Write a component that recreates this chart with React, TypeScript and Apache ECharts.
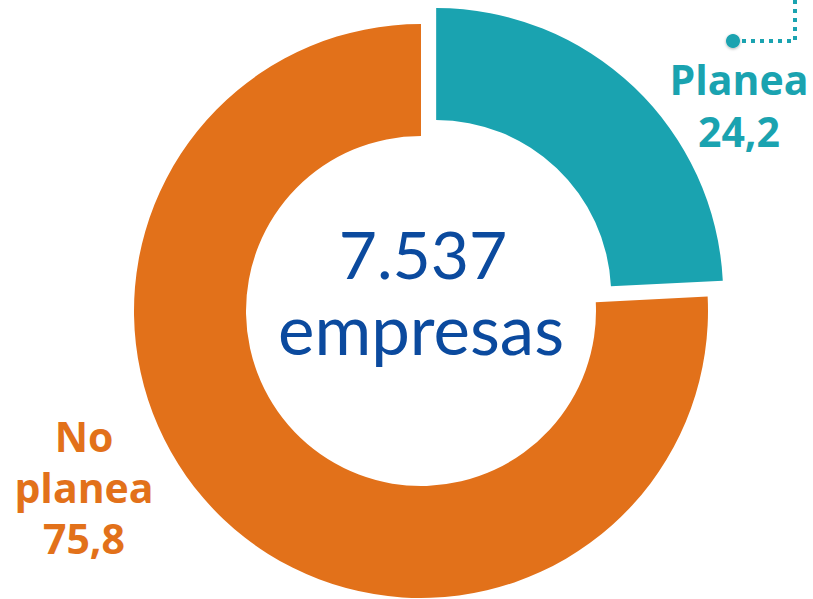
import React, { useEffect, useRef } from "react";
import * as echarts from "echarts";

const categories = ["Planea", "No planea"];
const values = [24.2, 75.8];
const colors = ["#1AA3B0", "#E2711A"];
const totalLabel = "7.537";
const totalUnit = "empresas";

const fmt = (v: number) => v.toFixed(1).replace(".", ",");

export default function App() {
  const ref = useRef<HTMLDivElement>(null);
  useEffect(() => {
    if (!ref.current) return;
    const chart = echarts.init(ref.current, null, { renderer: "svg" });
    const font = "'Open Sans', Lato, sans-serif";
    const centerFont = "Lato, 'Open Sans', sans-serif";
    chart.setOption({
      animation: false,
      backgroundColor: "#ffffff",
      series: [
        {
          type: "pie",
          center: [421, 311],
          radius: [175, 287],
          startAngle: 90,
          clockwise: true,
          selectedMode: "single",
          selectedOffset: 22,
          label: { show: false },
          labelLine: { show: false },
          emphasis: { disabled: true },
          data: categories.map((c, i) => ({
            name: c,
            value: values[i],
            selected: i === 0,
            itemStyle: { color: colors[i] },
          })),
        },
      ],
      graphic: [
        {
          type: "text",
          x: 423,
          y: 253,
          style: {
            text: totalLabel,
            fill: "#0B4A9E",
            font: `400 66px ${centerFont}`,
            align: "center",
            verticalAlign: "middle",
          },
        },
        {
          type: "text",
          x: 421,
          y: 328,
          style: {
            text: totalUnit,
            fill: "#0B4A9E",
            font: `400 69px ${centerFont}`,
            align: "center",
            verticalAlign: "middle",
          },
        },
        {
          type: "text",
          x: 739,
          y: 105,
          style: {
            text: `${categories[0]}\n${fmt(values[0])}`,
            fill: colors[0],
            font: `700 41px ${font}`,
            align: "center",
            verticalAlign: "middle",
            lineHeight: 52,
          },
        },
        {
          type: "text",
          x: 84,
          y: 487,
          style: {
            text: `No\nplanea\n${fmt(values[1])}`,
            fill: colors[1],
            font: `700 41px ${font}`,
            align: "center",
            verticalAlign: "middle",
            lineHeight: 51,
          },
        },
        {
          type: "polyline",
          shape: { points: [[742, 41], [795, 41], [795, 0]] },
          style: { stroke: colors[0], lineWidth: 4, lineDash: [4, 5], fill: null },
        },
        {
          type: "circle",
          shape: { cx: 733, cy: 41, r: 7 },
          style: { fill: colors[0], shadowBlur: 3, shadowColor: "rgba(0,0,0,0.3)", shadowOffsetY: 1 },
        },
      ],
    });
    return () => chart.dispose();
  }, []);
  return (
    <div
      ref={ref}
      style={{ position: "fixed", left: 0, top: 0, width: 813, height: 599 }}
    />
  );
}
